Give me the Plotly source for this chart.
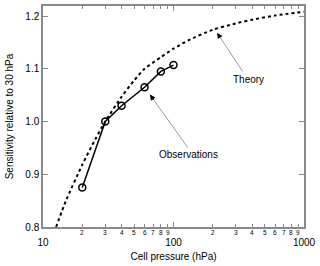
import math
import plotly.graph_objects as go

# Observations
obs_p = [20, 30, 40, 60, 80, 100]
obs_s = [0.875, 1.0, 1.03, 1.065, 1.095, 1.107]

# Theory
th_p = [12.6, 15, 20, 25, 30, 40, 50, 60, 80, 100, 130, 200, 300, 400, 600, 1000]
th_s = [0.80, 0.85, 0.918, 0.965, 1.0, 1.047, 1.078, 1.100, 1.122, 1.138, 1.154, 1.174, 1.186, 1.193, 1.201, 1.208]

x_major = [10, 100, 1000]
x_minor = [20, 30, 40, 50, 60, 70, 80, 90, 200, 300, 400, 500, 600, 700, 800, 900]
x_minor_labels = ["2", "3", "4", "5", "6", "7", "8", "9", "2", "3", "4", "5", "6", "7", "8", "9"]
y_ticks = [0.8, 0.9, 1.0, 1.1, 1.2]

FONT = "Liberation Sans, Arial, sans-serif"
AX = "#8a8a8a"
L = math.log10

fig = go.Figure()
fig.add_trace(go.Scatter(x=th_p, y=th_s, mode="lines",
                         line=dict(color="black", width=2, dash="dot", shape="spline", smoothing=0.6),
                         showlegend=False, hoverinfo="skip"))
fig.add_trace(go.Scatter(x=obs_p, y=obs_s, mode="lines+markers",
                         line=dict(color="black", width=1.5),
                         marker=dict(symbol="circle-open", size=7, color="black", line=dict(width=1.5)),
                         showlegend=False))

# minor digit labels under the x axis
for v, t in zip(x_minor, x_minor_labels):
    fig.add_annotation(x=L(v), y=0, xref="x", yref="paper", text=t, showarrow=False,
                       yanchor="top", yshift=0, font=dict(size=6.5, color="black", family=FONT))

def arrow(head, tail, label_pos, label):
    hx, hy = head
    tx, ty = tail
    fig.add_annotation(x=L(hx), y=hy, ax=L(tx), ay=ty, xref="x", yref="y", axref="x", ayref="y",
                       text="", showarrow=True, arrowhead=0, arrowwidth=1, arrowcolor="#9a9a9a")
    # short black arrow head
    f = 0.12
    fig.add_annotation(x=L(hx), y=hy, ax=L(hx) + f * (L(tx) - L(hx)), ay=hy + f * (ty - hy),
                       xref="x", yref="y", axref="x", ayref="y",
                       text="", showarrow=True, arrowhead=2, arrowsize=0.8, arrowwidth=1.4,
                       arrowcolor="black")
    fig.add_annotation(x=L(label_pos[0]), y=label_pos[1], xref="x", yref="y", text=label,
                       showarrow=False, font=dict(size=10, color="black", family=FONT))

arrow((216, 1.168), (345, 1.092), (377, 1.080), "Theory")
arrow((66, 1.051), (131, 0.948), (131, 0.9375), "Observations")

fig.update_xaxes(type="log", range=[1, 3], tickvals=x_major, ticktext=[str(v) for v in x_major],
                 ticks="inside", ticklen=5, tickcolor=AX, showline=True, linecolor=AX, linewidth=1.5,
                 mirror="ticks", showgrid=False, zeroline=False, ticklabelstandoff=5,
                 minor=dict(tickvals=x_minor, ticks="inside", ticklen=3, tickcolor=AX, showgrid=False),
                 tickfont=dict(size=10, color="black", family=FONT),
                 title=dict(text="Cell pressure (hPa)", font=dict(size=10, color="black", family=FONT), standoff=6))
fig.update_yaxes(range=[0.8, 1.219], tickvals=y_ticks, tickformat=".1f",
                 ticks="inside", ticklen=5, tickcolor=AX, showline=True, linecolor=AX, linewidth=1.5,
                 mirror="ticks", showgrid=False, zeroline=False,
                 tickfont=dict(size=10, color="black", family=FONT),
                 title=dict(text="Sensitivity relative to 30 hPa", font=dict(size=10, color="black", family=FONT), standoff=10))
fig.update_layout(width=320, height=266, margin=dict(l=43, r=14, t=4, b=39),
                  plot_bgcolor="white", paper_bgcolor="white", hovermode=False)
fig.write_html("out.html", config={"displayModeBar": False},
               post_script="document.body.style.margin='0px';")
